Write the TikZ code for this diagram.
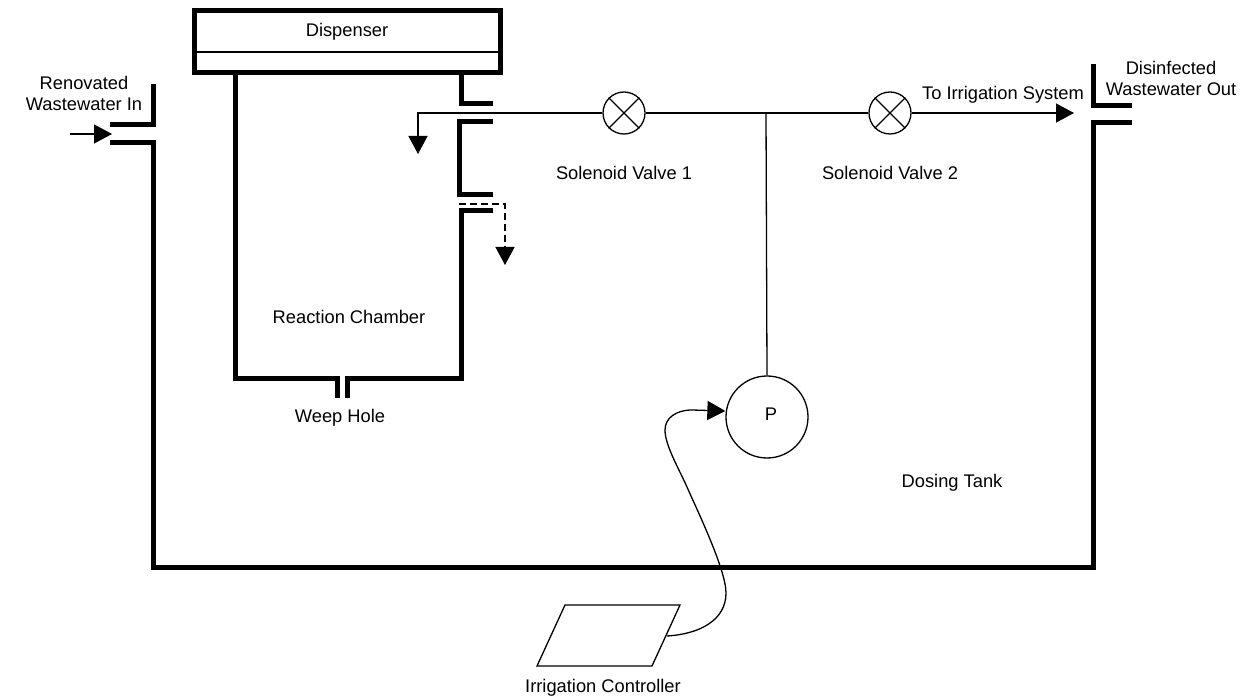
\documentclass[tikz,border=0pt]{standalone}
\usepackage{fontspec}
\setmainfont{Liberation Sans}
\usetikzlibrary{arrows.meta}
\begin{document}
\begin{tikzpicture}[x=1pt, y=-1pt,
    wall/.style={line width=5pt, line cap=butt, line join=miter},
    flow/.style={line width=1.3pt, -{Triangle[length=18pt, width=19pt]}},
    pipe/.style={line width=1.3pt},
    valve/.style={draw, circle, line width=1.3pt, minimum size=42pt, inner sep=0pt},
    lbl/.style={font=\fontsize{18.3}{21}\selectfont, align=center, inner sep=0pt}]
    \useasboundingbox (0,0) rectangle (1250,700);
    % tank
    \draw[wall] (110,143) -- (153,143) -- (153,567) -- (1093,567) -- (1093,123) -- (1132,123);
    \draw[wall] (110,125) -- (153,125) -- (153,84);
    \draw[wall] (1093,64) -- (1093,106) -- (1132,106);
    % reaction chamber
    \draw[wall] (194,11) rectangle (500,73);
    \draw[line width=2pt] (194,52) -- (500,52);
    \draw[wall] (235,73) -- (235,379) -- (337,379) -- (337,398);
    \draw[wall] (347,398) -- (347,379) -- (461,379) -- (461,211) -- (493,211);
    \draw[wall] (461,73) -- (461,104) -- (493,104);
    \draw[wall] (493,122) -- (459,122) -- (459,195) -- (493,195);
    % labels
    \node[lbl] (dispenser) at (347,32)   {Dispenser};
    \node[lbl] (inlet)     at (84,93)    {Renovated\\Wastewater In};
    \node[lbl] (outlet)    at (1171,78)  {Disinfected\\Wastewater Out};
    \node[lbl] (irrig)     at (1003,95)  {To Irrigation System};
    \node[lbl] (sola)      at (624,173)  {Solenoid Valve 1};
    \node[lbl] (solb)      at (890,173)  {Solenoid Valve 2};
    \node[lbl] (chamber)   at (349,317)  {Reaction Chamber};
    \node[lbl] (weep)      at (340,418)  {Weep Hole};
    \node[lbl] (tank)      at (952,483)  {Dosing Tank};
    \node[lbl] (ctrllbl)   at (603,688)  {Irrigation Controller};
    % valves, pump
    \node[valve] (valvea) at (624,113) {};
    \node[valve] (valveb) at (890,113) {};
    \foreach \v in {valvea, valveb} {
        \draw[pipe] (\v.north west) -- (\v.south east);
        \draw[pipe] (\v.north east) -- (\v.south west);
    }
    \node[valve, minimum size=82pt] (pump) at (767,417) {};
    \node[lbl] (pumplbl) at (771,414) {P};
    % controller
    \coordinate (ca) at (565,605);
    \coordinate (cb) at (680,605);
    \coordinate (cc) at (652,666);
    \coordinate (cd) at (537,666);
    \coordinate (cout) at (667,636);
    \draw[pipe] (ca) -- (cb) -- (cc) -- (cd) -- cycle;
    % flows
    \coordinate (injunct) at (70,134);
    \coordinate (intip)   at (112,134);
    \coordinate (droptip) at (418,154);
    \coordinate (outtip)  at (1074,113);
    \coordinate (join)    at (766,113);
    \coordinate (ovstart) at (459,204);
    \coordinate (ovtip)   at (505,265);
    \draw[flow] (injunct) -- (intip);
    \draw[flow] (valvea.west) -| (droptip);
    \draw[pipe] (valvea) -- (valveb);
    \draw[flow] (valveb) -- (outtip);
    \draw[pipe] (join) -- (pump.north);
    \draw[flow, dash pattern=on 7pt off 4pt] (ovstart) -| (ovtip);
    \draw[flow] (cout) .. controls (700,634) and (726,620) .. (726,593)
        .. controls (726,570) and (698,512) .. (687,487)
        .. controls (678,467) and (665,445) .. (665,430)
        .. controls (665,418) and (676,410) .. (692,410)
        -- (pump.west |- 0,411);
\end{tikzpicture}
\end{document}
